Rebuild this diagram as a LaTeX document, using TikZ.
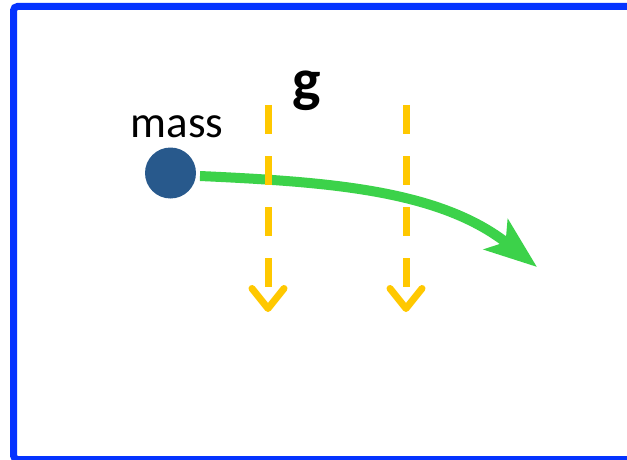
\documentclass[tikz,border=0pt]{standalone}
\usepackage{fontspec}
\setmainfont{Carlito}
\usepackage{tikz}
\usetikzlibrary{arrows.meta}
\definecolor{frameblue}{HTML}{0533FF}
\definecolor{massblue}{HTML}{28598C}
\definecolor{gravyellow}{HTML}{FFC800}
\definecolor{trajgreen}{HTML}{3CD24A}

\begin{document}
\begin{tikzpicture}[x=1pt,y=-1pt,
  frame/.style={draw=frameblue,line width=7pt,rounded corners=4pt},
  massdot/.style={circle,fill=massblue,minimum size=51pt,inner sep=0pt},
  label/.style={anchor=base,inner sep=0pt},
  fall/.style={draw=gravyellow,line width=7pt,dash pattern=on 29pt off 22pt,
    -{Straight Barb[length=20pt,width=32pt,round]}},
  traj/.style={draw=trajgreen,line width=10pt,
    -{Stealth[length=52pt,width=38pt,inset=12pt]}}
]
\useasboundingbox (0,0) rectangle (627,460);
\begin{scope}
  \clip (0,0) rectangle (627,460);
  \draw[frame] (13.5,6.5) rectangle (660,459.5);
\end{scope}
\node[massdot] (mass) at (170.5,173) {};
\node[label,font=\fontsize{45}{50}\selectfont] (masslabel) at (177,137) {mass};
\node[label,font=\bfseries\fontsize{60}{66}\selectfont] (glabel) at (307,100) {g};
\coordinate (trajstart) at (200,176);
\coordinate (trajend) at (537,267);
\draw[traj] (trajstart) .. controls (330,182) and (440,190) .. (trajend);
\coordinate (fallAtop) at (268,105);
\coordinate (fallAbot) at (268,312);
\coordinate (fallBtop) at (406,105);
\coordinate (fallBbot) at (406,312);
\draw[fall] (fallAtop) -- (fallAbot);
\draw[fall] (fallBtop) -- (fallBbot);
\end{tikzpicture}
\end{document}
